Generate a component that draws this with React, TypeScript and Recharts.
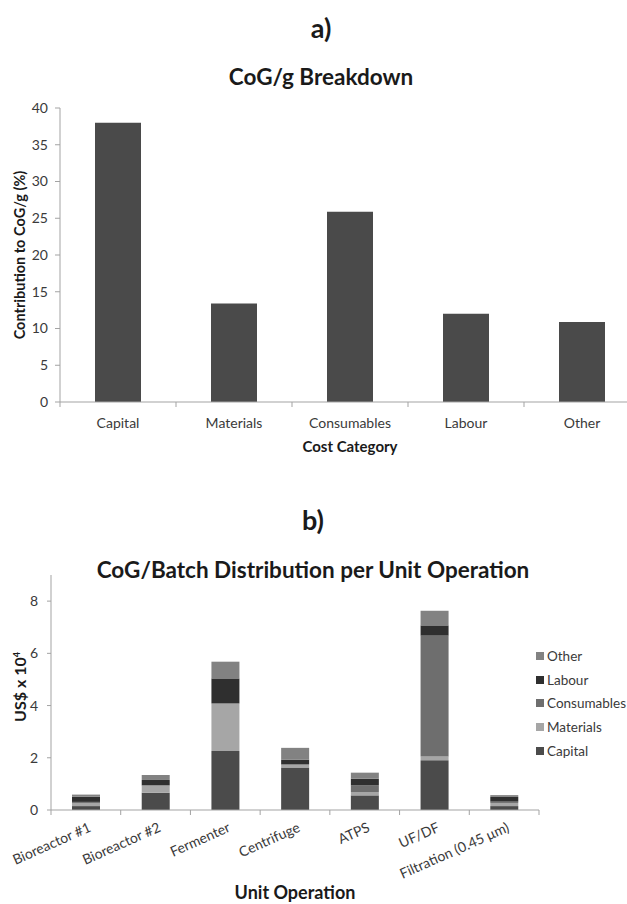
import { BarChart, Bar, XAxis, YAxis } from 'recharts';

const costCategories = ['Capital', 'Materials', 'Consumables', 'Labour', 'Other'];
const costShare = [38, 13.4, 25.9, 12, 10.9];
const shareTicks = [0, 5, 10, 15, 20, 25, 30, 35, 40];

const unitOperations = ['Bioreactor #1', 'Bioreactor #2', 'Fermenter', 'Centrifuge', 'ATPS', 'UF/DF', 'Filtration (0.45 μm)'];
const capital = [0.15, 0.66, 2.26, 1.63, 0.56, 1.91, 0.15];
const materials = [0.12, 0.27, 1.82, 0.1, 0.13, 0.14, 0.12];
const consumables = [0.04, 0.02, 0, 0.02, 0.25, 4.63, 0.05];
const labour = [0.2, 0.2, 0.96, 0.18, 0.26, 0.39, 0.18];
const other = [0.08, 0.19, 0.64, 0.45, 0.23, 0.56, 0.07];
const batchTicks = [0, 2, 4, 6, 8];

const FONT = 'Lato, "Open Sans", sans-serif';
const AXIS = '#a3a3a3';
const TEXT = '#3a3a3a';

const series = [
  { key: 'capital', name: 'Capital', color: '#4b4b4b', values: capital },
  { key: 'materials', name: 'Materials', color: '#a6a6a6', values: materials },
  { key: 'consumables', name: 'Consumables', color: '#6e6e6e', values: consumables },
  { key: 'labour', name: 'Labour', color: '#2f2f2f', values: labour },
  { key: 'other', name: 'Other', color: '#828282', values: other },
];

const costData = costCategories.map((name, i) => ({ name, share: costShare[i] }));
const batchData = unitOperations.map((name, i) => {
  const row: Record<string, string | number> = { name };
  series.forEach(s => { row[s.key] = s.values[i]; });
  return row;
});

function Title({ x, y, size, text, rotate = 0, children }: any) {
  return (
    <div
      style={{
        position: 'absolute',
        left: x,
        top: y,
        transform: `translate(-50%, -50%) rotate(${rotate}deg)`,
        fontFamily: FONT,
        fontWeight: 700,
        fontSize: size,
        color: '#1a1a1a',
        whiteSpace: 'nowrap',
        lineHeight: 1,
      }}
    >
      {text}
      {children}
    </div>
  );
}

function makeTick(count: number, fallbackHalf: number, rotated: boolean) {
  return (props: any) => {
    const { x, y, payload, index } = props;
    const half = payload && typeof payload.offset === 'number' && payload.offset > 0 ? payload.offset : fallbackHalf;
    return (
      <g>
        <line x1={x - half} x2={x - half} y1={y} y2={y + 5} stroke={AXIS} />
        {index === count - 1 && <line x1={x + half} x2={x + half} y1={y} y2={y + 5} stroke={AXIS} />}
        {rotated ? (
          <text
            x={x + 6}
            y={y + 21}
            textAnchor="end"
            transform={`rotate(-24, ${x + 6}, ${y + 21})`}
            fontFamily={FONT}
            fontSize={14}
            fill={TEXT}
          >
            {payload.value}
          </text>
        ) : (
          <text x={x} y={y + 26} textAnchor="middle" fontFamily={FONT} fontSize={14} fill={TEXT}>
            {payload.value}
          </text>
        )}
      </g>
    );
  };
}

export default function App() {
  const legendItems = [...series].reverse();
  return (
    <div style={{ position: 'absolute', left: 0, top: 0, width: 627, height: 904, overflow: 'hidden', background: '#fff' }}>
      <Title x={321} y={27} size={27} text="a)" />
      <Title x={321} y={77} size={22.5} text="CoG/g Breakdown" />

      <div style={{ position: 'absolute', left: 0, top: 0 }}>
        <BarChart width={700} height={460} data={costData} margin={{ top: 108, right: 60, bottom: 28, left: 0 }} barSize={46}>
          <XAxis
            dataKey="name"
            height={30}
            interval={0}
            axisLine={{ stroke: AXIS }}
            tickLine={false}
            tickSize={0}
            tickMargin={0}
            tick={makeTick(costCategories.length, 58, false)}
          />
          <YAxis
            width={60}
            domain={[0, 40]}
            ticks={shareTicks}
            interval={0}
            axisLine={{ stroke: AXIS }}
            tickLine={{ stroke: AXIS }}
            tickSize={5}
            tickMargin={7}
            tick={{ fill: TEXT, fontSize: 14, fontFamily: FONT }}
          />
          <Bar dataKey="share" fill="#4a4a4a" isAnimationActive={false} />
        </BarChart>
      </div>
      <Title x={20} y={255} size={14.5} rotate={-90} text="Contribution to CoG/g (%)" />
      <Title x={350} y={446} size={15} text="Cost Category" />

      <Title x={313} y={519} size={27} text="b)" />
      <Title x={313} y={570} size={22.5} text="CoG/Batch Distribution per Unit Operation" />

      <div style={{ position: 'absolute', left: 0, top: 480 }}>
        <BarChart width={627} height={424} data={batchData} margin={{ top: 95, right: 88, bottom: 34, left: 0 }} barSize={28}>
          <XAxis
            dataKey="name"
            height={60}
            interval={0}
            axisLine={{ stroke: AXIS }}
            tickLine={false}
            tickSize={0}
            tickMargin={0}
            tick={makeTick(unitOperations.length, 34.9, true)}
          />
          <YAxis
            width={51}
            domain={[0, 9]}
            ticks={batchTicks}
            interval={0}
            axisLine={{ stroke: AXIS }}
            tickLine={{ stroke: AXIS }}
            tickSize={4}
            tickMargin={9}
            tick={{ fill: TEXT, fontSize: 14, fontFamily: FONT }}
          />
          {series.map(s => (
            <Bar key={s.key} dataKey={s.key} name={s.name} stackId="cog" fill={s.color} isAnimationActive={false} />
          ))}
        </BarChart>
      </div>
      <Title x={20} y={687} size={16} rotate={-90} text="US$ x 10">
        <sup style={{ fontSize: 9 }}>4</sup>
      </Title>
      <Title x={295} y={892} size={18} text="Unit Operation" />

      <div style={{ position: 'absolute', left: 536, top: 644, fontFamily: FONT, fontSize: 13.5, color: TEXT }}>
        {legendItems.map(s => (
          <div key={s.key} style={{ display: 'flex', alignItems: 'center', height: 23.8 }}>
            <span style={{ width: 8, height: 8, background: s.color, marginRight: 3, display: 'inline-block' }} />
            {s.name}
          </div>
        ))}
      </div>
    </div>
  );
}
